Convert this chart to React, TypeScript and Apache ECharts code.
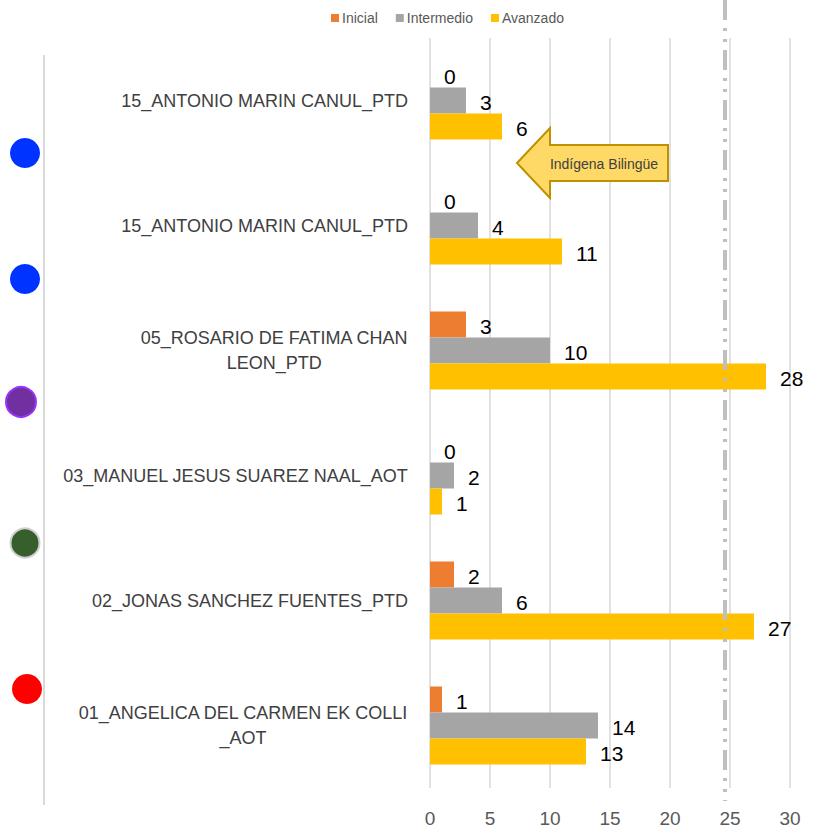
import React, { useEffect, useRef } from "react";
import * as echarts from "echarts";

// Categories listed bottom-to-top (ECharts category y-axis order)
const categories = [
  "01_ANGELICA DEL CARMEN EK COLLI\n_AOT",
  "02_JONAS SANCHEZ FUENTES_PTD",
  "03_MANUEL JESUS SUAREZ NAAL_AOT",
  "05_ROSARIO DE FATIMA CHAN\nLEON_PTD",
  "15_ANTONIO MARIN CANUL_PTD",
  "15_ANTONIO MARIN CANUL_PTD",
];
const seriesNames = ["Inicial", "Intermedio", "Avanzado"];
const inicial = [1, 2, 0, 3, 0, 0];
const intermedio = [14, 6, 2, 10, 4, 3];
const avanzado = [13, 27, 1, 28, 11, 6];
const seriesColors = ["#ED7D31", "#A5A5A5", "#FFC000"];
const xMin = 0;
const xMax = 30;
const xInterval = 5;
const calloutText = "Indígena Bilingüe";

const FONT = "'Liberation Sans', Arial, sans-serif";

export default function App() {
  const ref = useRef<HTMLDivElement>(null);

  useEffect(() => {
    document.body.style.margin = "0";
    if (!ref.current) return;
    const chart = echarts.init(ref.current, undefined, { renderer: "svg" });
    const values = [inicial, intermedio, avanzado];

    const series = seriesNames.map((name, i) => ({
      name,
      type: "bar",
      data: values[i],
      barWidth: 26,
      barGap: "0%",
      itemStyle: { color: seriesColors[i] },
      label: {
        show: true,
        position: "right",
        distance: 14,
        offset: [0, 2],
        color: "#000000",
        fontSize: 21,
        fontFamily: FONT,
      },
    }));

    chart.setOption({
      animation: false,
      textStyle: { fontFamily: FONT },
      legend: {
        data: seriesNames,
        left: 326,
        top: 6,
        icon: "rect",
        itemWidth: 8,
        itemHeight: 8,
        itemGap: 18,
        textStyle: { color: "#595959", fontSize: 14, fontFamily: FONT, padding: [0, 0, 0, -2] },
      },
      grid: { left: 430, right: 23, top: 38, bottom: 41, containLabel: false },
      xAxis: {
        type: "value",
        min: xMin,
        max: xMax,
        interval: xInterval,
        axisLine: { show: false },
        axisTick: { show: false },
        splitLine: { show: true, lineStyle: { color: "#D9D9D9", width: 1.5 } },
        axisLabel: { color: "#595959", fontSize: 19, margin: 21, fontFamily: FONT },
      },
      yAxis: {
        type: "category",
        data: categories,
        axisLine: { show: false },
        axisTick: { show: false },
        axisLabel: {
          margin: 22,
          color: "#404040",
          fontSize: 18,
          fontFamily: FONT,
          formatter: (v: string) =>
            v
              .split("\n")
              .map((l) => `{c|${l}}`)
              .join("\n"),
          rich: {
            c: { align: "center", fontSize: 18, color: "#404040", lineHeight: 25, fontFamily: FONT },
          },
        },
      },
      series,
      graphic: [
        {
          type: "line",
          shape: { x1: 44, y1: 55, x2: 44, y2: 805 },
          style: { stroke: "#D9D9D9", lineWidth: 2 },
          silent: true,
        },
        {
          type: "line",
          shape: { x1: 725, y1: 0, x2: 725, y2: 801 },
          style: { stroke: "#BFBFBF", lineWidth: 4, lineDash: [20, 8, 3, 8, 3, 8] },
          silent: true,
          z: 100,
        },
        {
          type: "circle",
          shape: { cx: 25, cy: 153, r: 15 },
          style: { fill: "#0033FF" },
        },
        {
          type: "circle",
          shape: { cx: 25, cy: 279, r: 15 },
          style: { fill: "#0033FF" },
        },
        {
          type: "circle",
          shape: { cx: 21, cy: 402, r: 15 },
          style: { fill: "#7030A0", stroke: "#9933FF", lineWidth: 2 },
        },
        {
          type: "circle",
          shape: { cx: 25, cy: 543, r: 14.5 },
          style: { fill: "#375F2B", stroke: "#D0D0D0", lineWidth: 2 },
        },
        {
          type: "circle",
          shape: { cx: 27, cy: 689, r: 15 },
          style: { fill: "#FF0000" },
        },
        {
          type: "polygon",
          shape: {
            points: [
              [517, 163],
              [550, 128],
              [550, 145],
              [668, 145],
              [668, 181],
              [550, 181],
              [550, 198],
            ],
          },
          style: { fill: "#FFD966", stroke: "#BF9000", lineWidth: 2 },
          z: 110,
        },
        {
          type: "text",
          x: 604,
          y: 164,
          style: {
            text: calloutText,
            fill: "#404040",
            fontSize: 14,
            fontFamily: FONT,
            align: "center",
            verticalAlign: "middle",
          },
          z: 120,
        },
      ],
    });

    return () => chart.dispose();
  }, []);

  return <div ref={ref} style={{ width: 813, height: 829 }} />;
}
